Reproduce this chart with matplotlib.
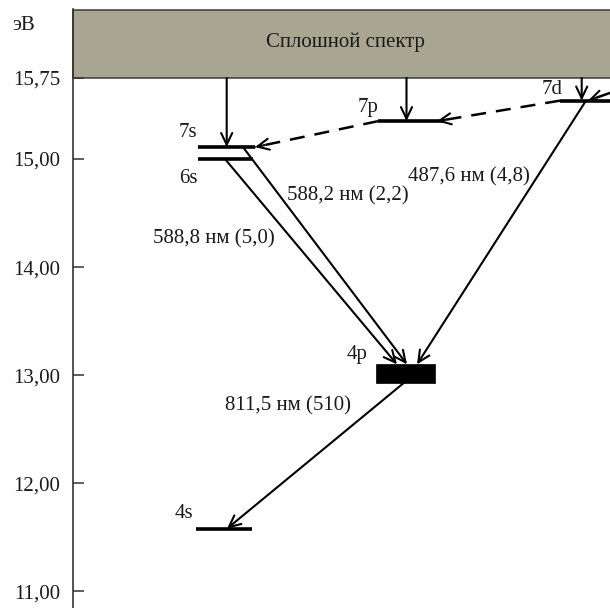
import matplotlib
matplotlib.use("Agg")
import matplotlib.pyplot as plt
from matplotlib.patches import Rectangle

plt.rcParams['font.family'] = ['Liberation Serif', 'DejaVu Serif']

# Energy scale (eV)
tick_values = [11.0, 12.0, 13.0, 14.0, 15.0, 15.75]
tick_labels = ['11,00', '12,00', '13,00', '14,00', '15,00', '15,75']
continuum_energy = 15.75

# Levels: name, energy (eV), horizontal extent
level_names = ['4s', '6s', '7s', '7p', '7d']
level_energy = [11.58, 15.00, 15.11, 15.35, 15.54]
level_x0 = [196, 198, 198, 378, 560]
level_x1 = [252, 253, 255, 443, 660]

# 4p band
band_name = '4p'
band_low, band_high = 12.93, 13.10
band_x0, band_x1 = 376, 435

# Level labels: x, baseline energy
label_pos = {'7s': (188, 15.208), '6s': (188, 14.775), '7p': (368, 15.438),
             '7d': (552, 15.60), '4p': (357.5, 13.147), '4s': (184, 11.676)}

# Radiative transitions (solid): x start, E start, x end, E end
solid_x0 = [226.7, 406.5, 581.7, 225, 243, 586, 404]
solid_e0 = [15.75, 15.75, 15.75, 15.00, 15.11, 15.54, 12.93]
solid_x1 = [226.7, 406.5, 581.7, 397, 407, 417, 227]
solid_e1 = [15.11, 15.35, 15.54, 13.10, 13.10, 13.10, 11.58]

# Cascade transitions (dashed)
dash_x0 = [625, 560, 378]
dash_e0 = [15.66, 15.54, 15.35]
dash_x1 = [588, 437, 255]
dash_e1 = [15.54, 15.35, 15.11]

# Line labels
line_texts = ['588,8 нм (5,0)', '588,2 нм (2,2)', '487,6 нм (4,8)', '811,5 нм (510)']
line_text_x = [214, 347.5, 469, 288]
line_text_e = [14.214, 14.62, 14.79, 12.671]

ink = '#1a1a1a'
fs = 15

fig = plt.figure(figsize=(6.10, 6.08), dpi=100)
ax = fig.add_axes([73 / 610, 0.0, 1 - 73 / 610, 598.7 / 608])
ax.set_xlim(73, 610)
ax.set_ylim(10.846, 16.385)

for s in ['top', 'right', 'bottom']:
    ax.spines[s].set_visible(False)
ax.spines['left'].set_color('#333333')
ax.spines['left'].set_linewidth(1.2)
ax.set_xticks([])
ax.set_yticks(tick_values)
ax.set_yticklabels(tick_labels, fontsize=fs, color=ink)
ax.tick_params(axis='y', direction='in', length=8, width=1.1, color='#333333', pad=9)

# Continuum band
ax.add_patch(Rectangle((73, continuum_energy), 700, 16.383 - continuum_energy,
                       facecolor='#a8a690', edgecolor='#3a3a3a', lw=1.1,
                       clip_on=False, zorder=1))
ax.text(345, 16.033, 'Сплошной спектр', fontsize=fs, ha='center', va='baseline', color=ink)
ax.text(24, 16.193, 'эВ', fontsize=fs, ha='center', va='baseline', color=ink, clip_on=False)

# Levels
for x0, x1, e in zip(level_x0, level_x1, level_energy):
    ax.plot([x0, x1], [e, e], color='black', lw=2.6, solid_capstyle='butt', zorder=3)
ax.add_patch(Rectangle((band_x0, band_low), band_x1 - band_x0, band_high - band_low,
                       facecolor='black', edgecolor='black', lw=0.5, zorder=3))

for name, (x, e) in label_pos.items():
    ax.text(x, e, name, fontsize=fs, ha='center', va='baseline', color=ink)

arrow_kw = dict(arrowstyle='->,head_length=0.42,head_width=0.2', mutation_scale=20,
                color='black', lw=1.5, shrinkA=0, shrinkB=0)

for x0, e0, x1, e1 in zip(solid_x0, solid_e0, solid_x1, solid_e1):
    ax.annotate('', xy=(x1, e1), xytext=(x0, e0), arrowprops=arrow_kw, zorder=4)

# Dashed cascades: dashed shaft plus a short solid head segment
for x0, e0, x1, e1 in zip(dash_x0, dash_e0, dash_x1, dash_e1):
    ax.plot([x0, x1], [e0, e1], color='black', lw=1.8, linestyle=(0, (6, 4)), zorder=4)
    f = 10 / ((x0 - x1) ** 2 + ((e0 - e1) * 108.1) ** 2) ** 0.5
    ax.annotate('', xy=(x1, e1), xytext=(x1 + (x0 - x1) * f, e1 + (e0 - e1) * f),
                arrowprops=arrow_kw, zorder=4)

for t, x, e in zip(line_texts, line_text_x, line_text_e):
    ax.text(x, e, t, fontsize=fs, ha='center', va='baseline', color=ink)

fig.savefig('out.png', dpi=100)
